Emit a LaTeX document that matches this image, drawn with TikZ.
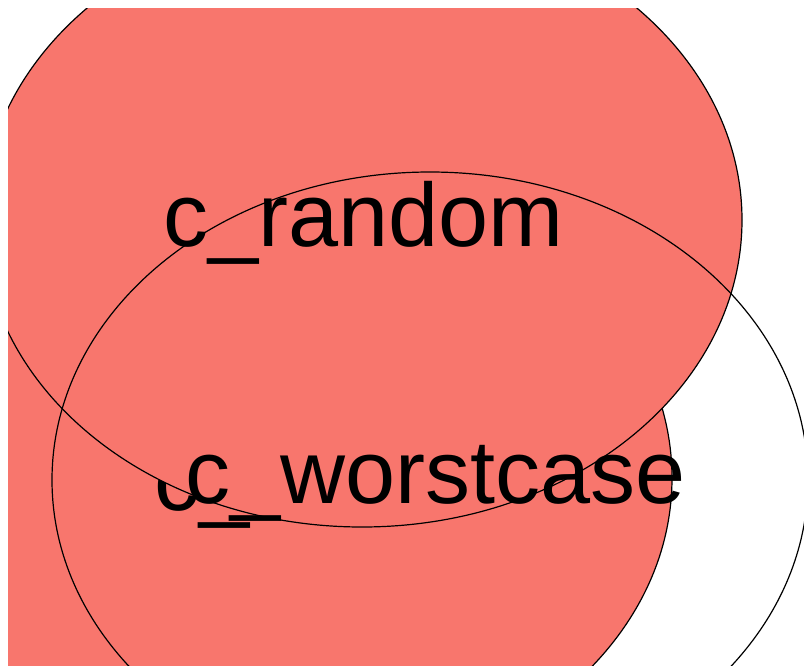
\documentclass[tikz,border=0pt]{standalone}
\usepackage{fontspec}
\setmainfont{Liberation Sans}
\definecolor{venn}{HTML}{F8766D}
\tikzset{
  setfill/.style={fill=venn, draw=black, line width=1.2pt},
  setline/.style={draw=black, line width=1.2pt},
  setlabel/.style={anchor=base west, inner sep=0pt, font=\fontsize{90}{90}\selectfont}
}
\begin{document}
\begin{tikzpicture}[x=1pt,y=-1pt]
\useasboundingbox (0,0) rectangle (804,665);
\begin{scope}
\clip (8,8) rectangle (804,665);
% third set (mostly hidden)
\draw[setfill] (292,478) ellipse [x radius=380pt, y radius=307pt];
\node[setlabel] (chidden) at (154,510) {c\_};
% c_random set
\draw[setfill] (362,220) ellipse [x radius=380pt, y radius=307pt];
% c_worstcase set (outline only)
\draw[setline] (430,480) ellipse [x radius=378pt, y radius=308pt];
\node[setlabel] (crandom) at (163,246) {c\_random};
\node[setlabel] (cworst) at (185,503) {c\_worstcase};
\end{scope}
\end{tikzpicture}
\end{document}
